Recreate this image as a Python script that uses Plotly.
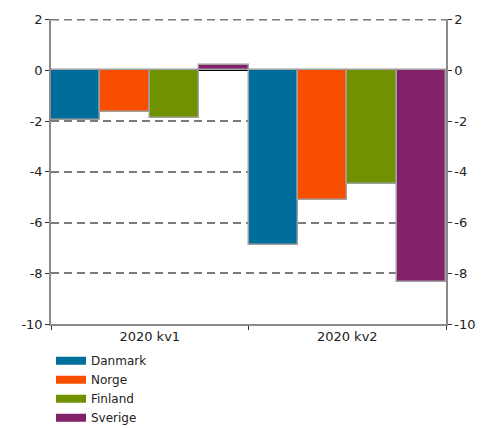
import plotly.graph_objects as go

categories = ["2020 kv1", "2020 kv2"]
series_names = ["Danmark", "Norge", "Finland", "Sverige"]
danmark = [-1.95, -6.88]
norge = [-1.63, -5.11]
finland = [-1.86, -4.46]
sverige = [0.2, -8.33]
colors = ["#006e9a", "#f84e00", "#709200", "#82216a"]
tick_vals = [2, 0, -2, -4, -6, -8, -10]
tick_text = [str(v) for v in tick_vals]

fig = go.Figure()
for name, vals, col in zip(series_names, [danmark, norge, finland, sverige], colors):
    fig.add_trace(go.Bar(x=categories, y=vals, name=name, showlegend=False,
                         marker=dict(color=col, line=dict(color="#a0a0a0", width=1.5))))

# legend entries (wide rectangular swatches)
for name, col in zip(series_names, colors):
    fig.add_trace(go.Scatter(x=[None], y=[None], name=name, mode="lines",
                             line=dict(color=col, width=8), hoverinfo="skip"))

fig.add_trace(go.Scatter(x=categories, y=[None, None], yaxis="y2", showlegend=False, hoverinfo="skip"))

axis_common = dict(range=[-10, 2.03], tickvals=tick_vals, ticktext=tick_text, ticks="outside", ticklen=4,
                   tickcolor="#333", showline=True, linecolor="#8a8a8a", linewidth=1.5,
                   tickfont=dict(family="DejaVu Sans", size=13, color="#222"))

# top gridline (at the edge of the range, plotly would skip it)
fig.add_shape(type="line", xref="paper", x0=0, x1=1, yref="y", y0=tick_vals[0], y1=tick_vals[0],
              line=dict(color="#7a7a7a", width=1.5, dash="8px,5px"), layer="below")

fig.update_layout(
    width=492, height=428,
    margin=dict(l=51, r=46, t=19, b=104, autoexpand=False),
    plot_bgcolor="white", paper_bgcolor="white",
    barmode="group", bargap=0, bargroupgap=0,
    font=dict(family="DejaVu Sans", size=13, color="#222"),
    xaxis=dict(type="category", tickson="boundaries", ticks="outside", ticklen=4, tickcolor="#333",
               showline=True, linecolor="#8a8a8a", linewidth=1.5, showgrid=False,
               tickfont=dict(family="DejaVu Sans", size=13, color="#222")),
    yaxis=dict(**axis_common, showgrid=True, gridcolor="#7a7a7a", gridwidth=1.5, griddash="8px,5px",
               zeroline=True, zerolinecolor="#000", zerolinewidth=2),
    yaxis2=dict(**axis_common, overlaying="y", side="right", showgrid=False, zeroline=False),
    legend=dict(x=0.0, y=-0.355, xanchor="left", yanchor="bottom", orientation="v",
                font=dict(family="DejaVu Sans", size=12, color="#222"), tracegroupgap=0,
                bgcolor="rgba(0,0,0,0)"),
    showlegend=True,
)

fig.write_html("out.html")
